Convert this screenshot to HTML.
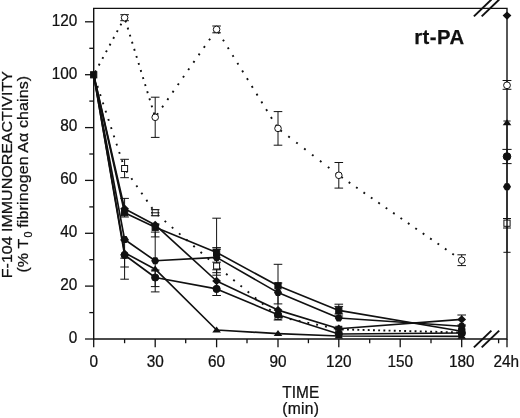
<!DOCTYPE html>
<html><head><meta charset="utf-8"><title>rt-PA</title>
<style>html,body{margin:0;padding:0;background:#fff}svg{display:block;will-change:transform}text{font-family:"Liberation Sans",Arial,Helvetica,sans-serif;fill:#111;stroke:#111;stroke-width:0.25px}</style></head><body>
<svg width="520" height="418" viewBox="0 0 520 418">
<rect width="520" height="418" fill="#fff"/>
<line x1="93.7" y1="74.8" x2="124.6" y2="17.7" stroke="#111" stroke-width="1.9" stroke-dasharray="1.9 5.70" stroke-dashoffset="-3.0"/>
<line x1="124.6" y1="17.7" x2="155.2" y2="117.3" stroke="#111" stroke-width="1.9" stroke-dasharray="1.9 5.50" stroke-dashoffset="-3.0"/>
<line x1="155.2" y1="117.3" x2="216.6" y2="29.4" stroke="#111" stroke-width="1.9" stroke-dasharray="1.9 7.20" stroke-dashoffset="-3.0"/>
<line x1="216.6" y1="29.4" x2="278.0" y2="128.4" stroke="#111" stroke-width="1.9" stroke-dasharray="1.9 7.20" stroke-dashoffset="-3.0"/>
<line x1="278.0" y1="128.4" x2="338.8" y2="175.3" stroke="#111" stroke-width="1.9" stroke-dasharray="1.9 8.10" stroke-dashoffset="-3.0"/>
<line x1="338.8" y1="175.3" x2="461.7" y2="260.2" stroke="#111" stroke-width="1.9" stroke-dasharray="1.9 7.10" stroke-dashoffset="-3.0"/>
<line x1="93.7" y1="74.8" x2="124.6" y2="168.5" stroke="#111" stroke-width="1.9" stroke-dasharray="1.9 6.80" stroke-dashoffset="-3.0"/>
<line x1="124.6" y1="168.5" x2="155.2" y2="212.7" stroke="#111" stroke-width="1.9" stroke-dasharray="1.9 6.90" stroke-dashoffset="-3.0"/>
<line x1="155.2" y1="212.7" x2="216.6" y2="266.0" stroke="#111" stroke-width="1.9" stroke-dasharray="1.9 7.60" stroke-dashoffset="-3.0"/>
<line x1="216.6" y1="266.0" x2="278.0" y2="316.5" stroke="#111" stroke-width="1.9" stroke-dasharray="1.9 7.40" stroke-dashoffset="-3.0"/>
<line x1="278.0" y1="316.5" x2="338.8" y2="329.3" stroke="#111" stroke-width="1.9" stroke-dasharray="1.9 7.10" stroke-dashoffset="-3.0"/>
<line x1="338.8" y1="329.3" x2="461.7" y2="332.5" stroke="#111" stroke-width="1.9" stroke-dasharray="1.9 3.30" stroke-dashoffset="-3.0"/>
<polyline points="93.7,74.8 124.6,212.7 155.2,227.3 216.6,252.4 278.0,285.8 338.8,310.4 461.7,331.3" fill="none" stroke="#111" stroke-width="1.65" stroke-linejoin="round"/>
<polyline points="93.7,74.8 124.6,208.7 155.2,224.9 216.6,281.0 278.0,310.1 338.8,328.8 461.7,319.4" fill="none" stroke="#111" stroke-width="1.65" stroke-linejoin="round"/>
<polyline points="93.7,74.8 124.6,239.5 155.2,260.8 216.6,257.4 278.0,292.6 338.8,318.0 461.7,326.3" fill="none" stroke="#111" stroke-width="1.65" stroke-linejoin="round"/>
<polyline points="93.7,74.8 124.6,252.7 155.2,269.2 216.6,330.0 278.0,333.6 338.8,336.0 461.7,336.3" fill="none" stroke="#111" stroke-width="1.65" stroke-linejoin="round"/>
<polyline points="93.7,74.8 124.6,255.0 155.2,277.5 216.6,288.9 278.0,314.7 338.8,334.0 461.7,333.0" fill="none" stroke="#111" stroke-width="1.65" stroke-linejoin="round"/>
<path d="M124.6 14.7V20.7M120.3 14.7H128.9M120.3 20.7H128.9" stroke="#111" stroke-width="1.0" fill="none"/>
<path d="M155.2 97.2V137.4M150.9 97.2H159.5M150.9 137.4H159.5" stroke="#111" stroke-width="1.0" fill="none"/>
<path d="M216.6 26.0V32.8M212.3 26.0H220.9M212.3 32.8H220.9" stroke="#111" stroke-width="1.0" fill="none"/>
<path d="M278.0 111.6V145.2M273.7 111.6H282.3M273.7 145.2H282.3" stroke="#111" stroke-width="1.0" fill="none"/>
<path d="M338.8 162.5V188.1M334.5 162.5H343.1M334.5 188.1H343.1" stroke="#111" stroke-width="1.0" fill="none"/>
<path d="M461.7 254.8V265.6M457.4 254.8H466.0M457.4 265.6H466.0" stroke="#111" stroke-width="1.0" fill="none"/>
<path d="M124.6 159.3V177.7M120.3 159.3H128.9M120.3 177.7H128.9" stroke="#111" stroke-width="1.0" fill="none"/>
<path d="M155.2 209.7V215.7M150.9 209.7H159.5M150.9 215.7H159.5" stroke="#111" stroke-width="1.0" fill="none"/>
<path d="M216.6 262.2V269.8M212.3 262.2H220.9M212.3 269.8H220.9" stroke="#111" stroke-width="1.0" fill="none"/>
<path d="M151.2 212.8H159.2" stroke="#111" stroke-width="1"/>
<path d="M124.6 198.4V217.0M120.3 198.4H128.9M120.3 217.0H128.9" stroke="#111" stroke-width="1.0" fill="none"/>
<path d="M124.6 240.0V279.2M120.3 240.0H128.9M120.3 279.2H128.9" stroke="#111" stroke-width="1.0" fill="none"/>
<path d="M124.6 258.2V267.0M120.3 258.2H128.9M120.3 267.0H128.9" stroke="#111" stroke-width="1.0" fill="none"/>
<path d="M155.2 224.0V291.9M150.9 224.0H159.5M150.9 291.9H159.5" stroke="#111" stroke-width="1.0" fill="none"/>
<path d="M155.2 232.1V236.9M150.9 232.1H159.5M150.9 236.9H159.5" stroke="#111" stroke-width="1.0" fill="none"/>
<path d="M155.2 270.0V286.6M150.9 270.0H159.5M150.9 286.6H159.5" stroke="#111" stroke-width="1.0" fill="none"/>
<path d="M216.6 218.2V295.5M212.3 218.2H220.9M212.3 295.5H220.9" stroke="#111" stroke-width="1.0" fill="none"/>
<path d="M216.6 247.6V275.2M212.3 247.6H220.9M212.3 275.2H220.9" stroke="#111" stroke-width="1.0" fill="none"/>
<path d="M216.6 249.2V272.7M212.3 249.2H220.9M212.3 272.7H220.9" stroke="#111" stroke-width="1.0" fill="none"/>
<path d="M278.0 264.3V303.9M273.7 264.3H282.3M273.7 303.9H282.3" stroke="#111" stroke-width="1.0" fill="none"/>
<path d="M278.0 283.0V320.0M273.7 283.0H282.3M273.7 320.0H282.3" stroke="#111" stroke-width="1.0" fill="none"/>
<path d="M338.8 304.2V316.0M334.5 304.2H343.1M334.5 316.0H343.1" stroke="#111" stroke-width="1.0" fill="none"/>
<path d="M338.8 306.4V314.0M334.5 306.4H343.1M334.5 314.0H343.1" stroke="#111" stroke-width="1.0" fill="none"/>
<path d="M461.7 315.0V325.0M457.4 315.0H466.0M457.4 325.0H466.0" stroke="#111" stroke-width="1.0" fill="none"/>
<path d="M507.0 80.5V89.3M502.6 80.5H511.4M502.6 89.3H511.4" stroke="#111" stroke-width="1.0" fill="none"/>
<path d="M507.0 149.4V163.6M502.4 149.4H511.6M502.4 163.6H511.6" stroke="#111" stroke-width="1.0" fill="none"/>
<path d="M507.0 121.0V252.3M503.4 121.0H510.6M503.4 252.3H510.6" stroke="#111" stroke-width="1.0" fill="none"/>
<path d="M507.0 218.5V228.0M503.0 218.5H511.0M503.0 228.0H511.0" stroke="#111" stroke-width="1.0" fill="none"/>
<circle cx="124.6" cy="17.7" r="3.3" fill="#fff" stroke="#111" stroke-width="1"/>
<circle cx="155.2" cy="117.3" r="3.3" fill="#fff" stroke="#111" stroke-width="1"/>
<circle cx="216.6" cy="29.4" r="3.3" fill="#fff" stroke="#111" stroke-width="1"/>
<circle cx="278.0" cy="128.4" r="3.3" fill="#fff" stroke="#111" stroke-width="1"/>
<circle cx="338.8" cy="175.3" r="3.3" fill="#fff" stroke="#111" stroke-width="1"/>
<circle cx="461.7" cy="260.2" r="3.3" fill="#fff" stroke="#111" stroke-width="1"/>
<rect x="121.6" y="165.5" width="6.0" height="6.0" fill="#fff" stroke="#111" stroke-width="1"/>
<rect x="152.2" y="209.7" width="6.0" height="6.0" fill="#fff" stroke="#111" stroke-width="1"/>
<rect x="213.6" y="263.0" width="6.0" height="6.0" fill="#fff" stroke="#111" stroke-width="1"/>
<rect x="275.0" y="313.5" width="6.0" height="6.0" fill="#fff" stroke="#111" stroke-width="1"/>
<rect x="335.8" y="326.3" width="6.0" height="6.0" fill="#fff" stroke="#111" stroke-width="1"/>
<rect x="458.7" y="329.5" width="6.0" height="6.0" fill="#fff" stroke="#111" stroke-width="1"/>
<path d="M124.6 249.1L128.9 255.1L120.3 255.1Z" fill="#111"/>
<path d="M155.2 265.6L159.5 271.6L150.9 271.6Z" fill="#111"/>
<path d="M216.6 326.4L220.9 332.4L212.3 332.4Z" fill="#111"/>
<path d="M278.0 330.0L282.3 336.0L273.7 336.0Z" fill="#111"/>
<path d="M338.8 332.4L343.1 338.4L334.5 338.4Z" fill="#111"/>
<path d="M461.7 332.7L466.0 338.7L457.4 338.7Z" fill="#111"/>
<circle cx="124.6" cy="255.0" r="3.6" fill="#111" stroke="#111" stroke-width="1"/>
<circle cx="155.2" cy="277.5" r="3.6" fill="#111" stroke="#111" stroke-width="1"/>
<circle cx="216.6" cy="288.9" r="3.6" fill="#111" stroke="#111" stroke-width="1"/>
<circle cx="278.0" cy="314.7" r="3.6" fill="#111" stroke="#111" stroke-width="1"/>
<circle cx="338.8" cy="334.0" r="3.6" fill="#111" stroke="#111" stroke-width="1"/>
<circle cx="461.7" cy="333.0" r="3.6" fill="#111" stroke="#111" stroke-width="1"/>
<polygon points="128.6,239.5 126.6,243.0 122.6,243.0 120.6,239.5 122.6,236.0 126.6,236.0" fill="#111"/>
<polygon points="159.2,260.8 157.2,264.3 153.2,264.3 151.2,260.8 153.2,257.3 157.2,257.3" fill="#111"/>
<polygon points="220.6,257.4 218.6,260.9 214.6,260.9 212.6,257.4 214.6,253.9 218.6,253.9" fill="#111"/>
<polygon points="282.0,292.6 280.0,296.1 276.0,296.1 274.0,292.6 276.0,289.1 280.0,289.1" fill="#111"/>
<polygon points="342.8,318.0 340.8,321.5 336.8,321.5 334.8,318.0 336.8,314.5 340.8,314.5" fill="#111"/>
<polygon points="465.7,326.3 463.7,329.8 459.7,329.8 457.7,326.3 459.7,322.8 463.7,322.8" fill="#111"/>
<rect x="90.6" y="71.7" width="6.2" height="6.2" fill="#111" stroke="#111" stroke-width="1"/>
<rect x="121.5" y="209.6" width="6.2" height="6.2" fill="#111" stroke="#111" stroke-width="1"/>
<rect x="152.1" y="224.2" width="6.2" height="6.2" fill="#111" stroke="#111" stroke-width="1"/>
<rect x="213.5" y="249.3" width="6.2" height="6.2" fill="#111" stroke="#111" stroke-width="1"/>
<rect x="274.9" y="282.7" width="6.2" height="6.2" fill="#111" stroke="#111" stroke-width="1"/>
<rect x="335.7" y="307.3" width="6.2" height="6.2" fill="#111" stroke="#111" stroke-width="1"/>
<rect x="458.6" y="328.2" width="6.2" height="6.2" fill="#111" stroke="#111" stroke-width="1"/>
<path d="M124.6 204.5L129.0 208.7L124.6 212.9L120.2 208.7Z" fill="#111"/>
<path d="M155.2 220.7L159.6 224.9L155.2 229.1L150.8 224.9Z" fill="#111"/>
<path d="M216.6 276.8L221.0 281.0L216.6 285.2L212.2 281.0Z" fill="#111"/>
<path d="M278.0 305.9L282.4 310.1L278.0 314.3L273.6 310.1Z" fill="#111"/>
<path d="M338.8 324.6L343.2 328.8L338.8 333.0L334.4 328.8Z" fill="#111"/>
<path d="M461.7 315.2L466.1 319.4L461.7 323.6L457.3 319.4Z" fill="#111"/>
<path d="M151.0 212.8H159.4" stroke="#111" stroke-width="1"/>
<path d="M507.0 11.4L511.4 15.6L507.0 19.8L502.6 15.6Z" fill="#111"/>
<path d="M507.0 119.2L511.3 125.2L502.7 125.2Z" fill="#111"/>
<circle cx="507.0" cy="156.5" r="3.8" fill="#111" stroke="#111" stroke-width="1"/>
<polygon points="511.0,186.7 509.0,190.2 505.0,190.2 503.0,186.7 505.0,183.2 509.0,183.2" fill="#111"/>
<rect x="503.9" y="220.1" width="6.2" height="6.2" fill="#fff" stroke="#111" stroke-width="1"/>
<path d="M93.7 7.65V339.0H507V8.35H93.0" fill="none" stroke="#111" stroke-width="1.4"/>
<circle cx="507.0" cy="85.3" r="3.4" fill="#fff" stroke="#111" stroke-width="1"/>
<path d="M85.0 339.0H93.7" stroke="#111" stroke-width="1.3"/>
<path d="M89.3 312.6H93.7" stroke="#111" stroke-width="1.3"/>
<path d="M85.0 286.1H93.7" stroke="#111" stroke-width="1.3"/>
<path d="M89.3 259.7H93.7" stroke="#111" stroke-width="1.3"/>
<path d="M85.0 233.3H93.7" stroke="#111" stroke-width="1.3"/>
<path d="M89.3 206.9H93.7" stroke="#111" stroke-width="1.3"/>
<path d="M85.0 180.4H93.7" stroke="#111" stroke-width="1.3"/>
<path d="M89.3 154.0H93.7" stroke="#111" stroke-width="1.3"/>
<path d="M85.0 127.6H93.7" stroke="#111" stroke-width="1.3"/>
<path d="M89.3 101.1H93.7" stroke="#111" stroke-width="1.3"/>
<path d="M85.0 74.7H93.7" stroke="#111" stroke-width="1.3"/>
<path d="M89.3 48.3H93.7" stroke="#111" stroke-width="1.3"/>
<path d="M85.0 21.8H93.7" stroke="#111" stroke-width="1.3"/>
<path d="M93.7 339V347.3" stroke="#111" stroke-width="1.3"/>
<path d="M124.6 339V343.2" stroke="#111" stroke-width="1.3"/>
<path d="M155.2 339V347.3" stroke="#111" stroke-width="1.3"/>
<path d="M185.7 339V343.2" stroke="#111" stroke-width="1.3"/>
<path d="M216.6 339V347.3" stroke="#111" stroke-width="1.3"/>
<path d="M247.0 339V343.2" stroke="#111" stroke-width="1.3"/>
<path d="M278.0 339V347.3" stroke="#111" stroke-width="1.3"/>
<path d="M308.4 339V343.2" stroke="#111" stroke-width="1.3"/>
<path d="M338.8 339V347.3" stroke="#111" stroke-width="1.3"/>
<path d="M369.7 339V343.2" stroke="#111" stroke-width="1.3"/>
<path d="M400.2 339V347.3" stroke="#111" stroke-width="1.3"/>
<path d="M431.0 339V343.2" stroke="#111" stroke-width="1.3"/>
<path d="M461.7 339V347.3" stroke="#111" stroke-width="1.3"/>
<path d="M498.6 339V343.2M507 339V347.3" stroke="#111" stroke-width="1.3"/>
<path d="M473.9 347.4L491.4 330.6" stroke="#111" stroke-width="2.0"/>
<path d="M481.7 347.4L499.2 330.6" stroke="#111" stroke-width="2.0"/>
<path d="M473.9 16.4L491.4 -0.4" stroke="#111" stroke-width="2.0"/>
<path d="M481.7 16.4L499.2 -0.4" stroke="#111" stroke-width="2.0"/>
<text transform="translate(77.30 342.90) scale(0.955 1)" font-size="16.1" text-anchor="end">0</text>
<text transform="translate(77.30 290.04) scale(0.955 1)" font-size="16.1" text-anchor="end">20</text>
<text transform="translate(77.30 237.18) scale(0.955 1)" font-size="16.1" text-anchor="end">40</text>
<text transform="translate(77.30 184.32) scale(0.955 1)" font-size="16.1" text-anchor="end">60</text>
<text transform="translate(77.30 131.46) scale(0.955 1)" font-size="16.1" text-anchor="end">80</text>
<text transform="translate(77.30 78.60) scale(0.955 1)" font-size="16.1" text-anchor="end">100</text>
<text transform="translate(77.30 25.74) scale(0.955 1)" font-size="16.1" text-anchor="end">120</text>
<text transform="translate(93.70 367.20) scale(0.955 1)" font-size="16.1" text-anchor="middle">0</text>
<text transform="translate(155.20 367.20) scale(0.955 1)" font-size="16.1" text-anchor="middle">30</text>
<text transform="translate(216.60 367.20) scale(0.955 1)" font-size="16.1" text-anchor="middle">60</text>
<text transform="translate(278.00 367.20) scale(0.955 1)" font-size="16.1" text-anchor="middle">90</text>
<text transform="translate(338.80 367.20) scale(0.955 1)" font-size="16.1" text-anchor="middle">120</text>
<text transform="translate(400.20 367.20) scale(0.955 1)" font-size="16.1" text-anchor="middle">150</text>
<text transform="translate(461.70 367.20) scale(0.955 1)" font-size="16.1" text-anchor="middle">180</text>
<text transform="translate(506.20 367.20) scale(0.955 1)" font-size="16.1" text-anchor="middle">24h</text>
<text transform="translate(300.80 397.70) scale(0.965 1)" font-size="16.0" text-anchor="middle">TIME</text>
<text transform="translate(300.80 414.20) scale(0.980 1)" font-size="16.0" text-anchor="middle" letter-spacing="0.3">(min)</text>
<text x="464.5" y="44.4" font-size="20.3" font-weight="bold" letter-spacing="0.45" text-anchor="end">rt-PA</text>
<text transform="translate(12.1 278.2) rotate(-90) scale(1.067 1)" font-size="15">F-104 IMMUNOREACTIVITY</text>
<text transform="translate(27.8 272.6) rotate(-90) scale(1.067 1)" font-size="15" letter-spacing="0.1">(% T<tspan dy="4" dx="1.2" font-size="10">0</tspan><tspan dy="-4" dx="-0.8"> fibrinogen Aα chains)</tspan></text>
</svg></body></html>
